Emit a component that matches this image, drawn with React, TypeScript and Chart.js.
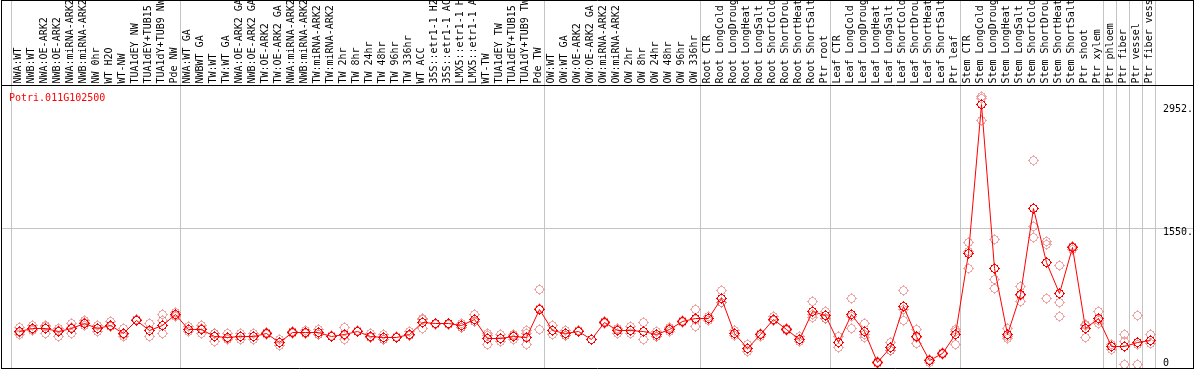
import React, { useEffect, useRef } from "react";
import { Chart, registerables } from "chart.js";

Chart.register(...registerables);

const geneName = "Potri.011G102500";

const categories = [
  "NWA:WT", "NWB:WT", "NWA:OE-ARK2", "NWB:OE-ARK2", "NWA:miRNA-ARK2", "NWB:miRNA-ARK2",
  "NW 0hr", "WT H2O", "WT-NW", "TUA1dEY NW", "TUA1dEY+TUB15 NW", "TUA1dY+TUB9 NW", "Pde NW",
  "NWA:WT GA", "NWBWT GA", "TW:WT", "TW:WT GA", "NWA:OE-ARK2 GA", "NWB:OE-ARK2 GA",
  "TW:OE-ARK2", "TW:OE-ARK2 GA", "NWA:miRNA-ARK2", "NWB:miRNA-ARK2", "TW:miRNA-ARK2",
  "TW:miRNA-ARK2", "TW 2hr", "TW 8hr", "TW 24hr", "TW 48hr", "TW 96hr", "TW 336hr", "WT ACC",
  "35S::etr1-1 H2O", "35S::etr1-1 ACC", "LMX5::etr1-1 H2O", "LMX5::etr1-1 ACC", "WT-TW",
  "TUA1dEY TW", "TUA1dEY+TUB15 TW", "TUA1dY+TUB9 TW", "Pde TW",
  "OW:WT", "OW:WT GA", "OW:OE-ARK2", "OW:OE-ARK2 GA", "OW:miRNA-ARK2", "OW:miRNA-ARK2",
  "OW 2hr", "OW 8hr", "OW 24hr", "OW 48hr", "OW 96hr", "OW 336hr",
  "Root CTR", "Root LongCold", "Root LongDrought", "Root LongHeat", "Root LongSalt",
  "Root ShortCold", "Root ShortDrought", "Root ShortHeat", "Root ShortSalt", "Ptr root",
  "Leaf CTR", "Leaf LongCold", "Leaf LongDrought", "Leaf LongHeat", "Leaf LongSalt",
  "Leaf ShortCold", "Leaf ShortDrought", "Leaf ShortHeat", "Leaf ShortSalt", "Ptr leaf",
  "Stem CTR", "Stem LongCold", "Stem LongDrought", "Stem LongHeat", "Stem LongSalt",
  "Stem ShortCold", "Stem ShortDrought", "Stem ShortHeat", "Stem ShortSalt", "Ptr shoot",
  "Ptr xylem", "Ptr phloem", "Ptr fiber", "Ptr vessel", "Ptr fiber vessel",
];

// index of first category of each group (last entry = end)
const groupStarts = [0, 13, 41, 53, 63, 73, 84, 85, 86, 87, 88];

const meanValues = [
  374, 413, 413, 374, 413, 470, 413, 450, 356, 507, 393, 450, 564,
  401, 401, 325, 310, 317, 317, 356, 254, 367, 367, 363, 325, 345, 382, 325, 306, 310, 345, 481, 462, 462, 439, 515, 299, 299, 317, 310, 632,
  393, 348, 382, 288, 481, 385, 393, 382, 337, 401, 488, 526,
  526, 754, 356, 185, 337, 515, 403, 288, 609, 553,
  254, 572, 374, 22, 192, 658, 317, 41, 128, 337,
  1258, 2952, 1087, 345, 799, 1777, 1163, 803, 1334, 405, 526,
  204, 204, 254, 272,
];

const rep1 = [
  420, 450, 450, 413, 462, 496, 450, 488, 413, 500, 470, 572, 595,
  431, 442, 356, 348, 356, 348, 367, 288, 374, 393, 401, 330, 420, 393, 356, 345, 315, 374, 526, 462, 470, 470, 564, 348, 337, 337, 393, 856,
  450, 385, 375, 285, 488, 413, 431, 476, 374, 424, 499, 629,
  545, 848, 393, 223, 356, 545, 413, 317, 723, 609,
  317, 754, 470, 33, 254, 848, 401, 60, 120, 401,
  1391, 3028, 1428, 299, 886, 2315, 1397, 1132, 1341, 458, 609,
  231, 345, 561, 337,
];

const rep2 = [
  337, 401, 356, 317, 356, 439, 374, 431, 317, 510, 317, 507, 553,
  374, 356, 260, 280, 280, 288, 337, 219, 356, 356, 345, 322, 288, 375, 310, 288, 305, 330, 405, 455, 458, 424, 488, 223, 260, 280, 356, 401,
  337, 329, 388, 290, 470, 348, 356, 288, 317, 374, 476, 431,
  507, 708, 348, 147, 317, 499, 405, 260, 533, 526,
  192, 413, 306, 7, 158, 496, 242, 22, 135, 231,
  1095, 2781, 962, 413, 723, 1568, 1368, 708, 1314, 310, 470,
  174, 260, 0, 242,
];

const rep3 = [
  365, 388, 433, 392, 421, 475, 415, 431, 338, 511, 392, 356, 545,
  398, 405, 359, 302, 315, 315, 364, 255, 371, 352, 343, 323, 327, 378, 309, 285, 310, 331, 512, 469, 458, 423, 493, 326, 300, 334, 223, 639,
  392, 330, 383, 289, 485, 394, 392, 382, 320, 405, 489, 518,
  526, 706, 327, 185, 338, 501, 391, 287, 571, 524,
  253, 549, 346, 26, 164, 630, 308, 41, 129, 379,
  1288, 3047, 868, 323, 788, 1447, 746, 549, 1347, 447, 499,
  207, 0, 230, 272,
];

const yTickValues = [2952, 1550, 0];
const gridValues = [1550];

// pixel-art circle (9 px) with small ticks, like the original bitmap markers
const MARKER_ROWS = [
  ".....#.....",
  "....###....",
  "..##...##..",
  "..#.....#..",
  ".#.......#.",
  "##.......##",
  ".#.......#.",
  "..#.....#..",
  "..##...##..",
  "....###....",
  ".....#.....",
];

function makeMarker(color: string): HTMLCanvasElement {
  const c = document.createElement("canvas");
  c.width = 11;
  c.height = 11;
  const g = c.getContext("2d")!;
  g.fillStyle = color;
  MARKER_ROWS.forEach((row, q) => {
    for (let p = 0; p < row.length; p++) {
      if (row[p] === "#") g.fillRect(p, q, 1, 1);
    }
  });
  return c;
}

export default function App() {
  const ref = useRef<HTMLCanvasElement | null>(null);

  useEffect(() => {
    document.body.style.margin = "0";
    const canvas = ref.current;
    if (!canvas) return;

    const meanMarker = makeMarker("#ff0000");
    const repMarker = makeMarker("rgba(232,110,110,0.62)");

    const meanData = meanValues.map((v, i) => ({ x: i, y: v }));
    const repData: { x: number; y: number }[] = [];
    [rep1, rep2, rep3].forEach((arr) =>
      arr.forEach((v, i) => {
        if (v !== null && v !== undefined) repData.push({ x: i, y: v });
      })
    );

    const FONT = '10px "DejaVu Sans Mono", "Liberation Mono", monospace';
    const HEADER_BOTTOM = 85;
    const FRAME_BOTTOM = 368;

    // snap point elements (computed by the scales) to pixel centres for crisp bitmap markers
    const snap = {
      id: "snap",
      afterDatasetsUpdate(chart: any) {
        chart.data.datasets.forEach((_d: any, di: number) => {
          const meta = chart.getDatasetMeta(di);
          meta.data.forEach((el: any) => {
            el.x = Math.floor(el.x) + 0.5;
            el.y = Math.floor(el.y) + 0.5;
          });
        });
      },
    };

    const decor = {
      id: "decor",
      beforeDatasetsDraw(chart: any) {
        const ctx = chart.ctx as CanvasRenderingContext2D;
        const xs = chart.scales.x;
        const ys = chart.scales.y;
        ctx.save();
        ctx.fillStyle = "#ffffff";
        ctx.fillRect(0, 0, chart.width, chart.height);

        // grid lines
        ctx.strokeStyle = "#c4c4c4";
        ctx.lineWidth = 1;
        ctx.beginPath();
        groupStarts.forEach((s) => {
          const px = Math.round(xs.getPixelForValue(s - 0.64)) + 0.5;
          ctx.moveTo(px, 0);
          ctx.lineTo(px, FRAME_BOTTOM);
        });
        gridValues.forEach((v) => {
          const py = Math.round(ys.getPixelForValue(v)) + 0.5;
          ctx.moveTo(1, py);
          ctx.lineTo(1193, py);
        });
        ctx.stroke();

        // category labels (rotated)
        ctx.save();
        ctx.beginPath();
        ctx.rect(2, 1, 1190, HEADER_BOTTOM - 1);
        ctx.clip();
        ctx.font = FONT;
        ctx.fillStyle = "#000000";
        ctx.textAlign = "left";
        ctx.textBaseline = "alphabetic";
        categories.forEach((label, i) => {
          const px = xs.getPixelForValue(i) + 1.5;
          ctx.save();
          ctx.translate(px, HEADER_BOTTOM - 1.5);
          ctx.rotate(-Math.PI / 2);
          ctx.fillText(label, 0, 0);
          ctx.restore();
        });
        ctx.restore();

        // gene name
        ctx.font = FONT;
        ctx.fillStyle = "#ff0000";
        ctx.textAlign = "left";
        ctx.textBaseline = "alphabetic";
        ctx.fillText(geneName, 9, 100.5);

        // y tick labels
        ctx.fillStyle = "#000000";
        yTickValues.forEach((v) => {
          const py = ys.getPixelForValue(v);
          const label = v === 0 ? "0" : v + ".";
          const y = v === 0 ? py + 1 : py + 7;
          ctx.fillText(label, 1163, y);
        });
        ctx.restore();
      },
      afterDraw(chart: any) {
        const ctx = chart.ctx as CanvasRenderingContext2D;
        ctx.save();
        ctx.strokeStyle = "#000000";
        ctx.lineWidth = 1;
        ctx.beginPath();
        ctx.moveTo(1.5, 0);
        ctx.lineTo(1.5, FRAME_BOTTOM + 0.5);
        ctx.moveTo(1193.5, 0);
        ctx.lineTo(1193.5, FRAME_BOTTOM + 0.5);
        ctx.moveTo(1, 0.5);
        ctx.lineTo(1194, 0.5);
        ctx.moveTo(1, HEADER_BOTTOM + 0.5);
        ctx.lineTo(1194, HEADER_BOTTOM + 0.5);
        ctx.moveTo(1, FRAME_BOTTOM + 0.5);
        ctx.lineTo(1194, FRAME_BOTTOM + 0.5);
        ctx.stroke();
        ctx.restore();
      },
    };

    const xMin = -18.5 / 13;
    const xMax = xMin + 1192 / 13;
    const yMin = -3.4 * 11.37;
    const yMax = yMin + 283 * 11.37;

    const chart = new Chart(canvas, {
      type: "scatter",
      data: {
        datasets: [
          {
            type: "line",
            label: "mean",
            data: meanData,
            borderColor: "#ff0000",
            borderWidth: 1,
            pointStyle: meanMarker as any,
            pointRadius: 5,
            showLine: true,
            fill: false,
            tension: 0,
          } as any,
          {
            type: "scatter",
            label: "replicates",
            data: repData,
            pointStyle: repMarker as any,
            pointRadius: 5,
            showLine: false,
          } as any,
        ],
      },
      options: {
        responsive: false,
        animation: false,
        maintainAspectRatio: false,
        layout: { autoPadding: false, padding: { left: 1, right: 1, top: 85, bottom: 2 } },
        scales: {
          x: { type: "linear", min: xMin, max: xMax, display: false },
          y: { type: "linear", min: yMin, max: yMax, display: false },
        },
        plugins: {
          legend: { display: false },
          tooltip: { enabled: false },
        },
      } as any,
      plugins: [snap, decor],
    });

    return () => chart.destroy();
  }, []);

  return (
    <canvas
      ref={ref}
      width={1194}
      height={370}
      style={{ display: "block", width: 1194, height: 370 }}
    />
  );
}
